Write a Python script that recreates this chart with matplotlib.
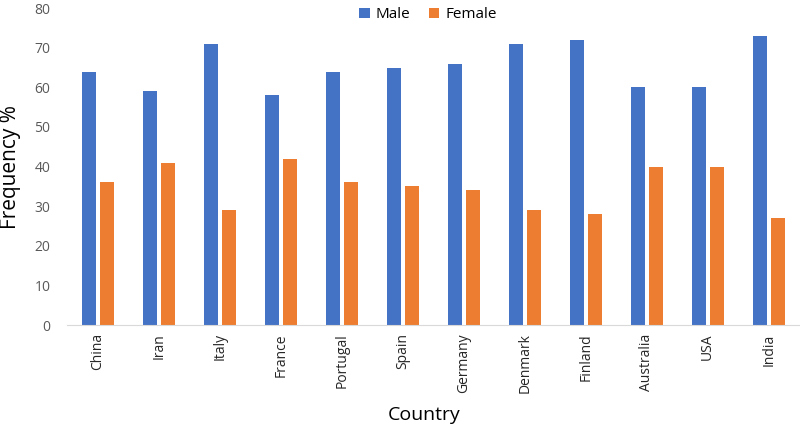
import matplotlib

matplotlib.use("Agg")
import matplotlib.pyplot as plt
import numpy as np

plt.rcParams["font.family"] = ["Open Sans", "DejaVu Sans"]

# Data
countries = ["China", "Iran", "Italy", "France", "Portugal", "Spain",
             "Germany", "Denmark", "Finland", "Australia", "USA", "India"]
male = [64, 59, 71, 58, 64, 65, 66, 71, 72, 60, 60, 73]
female = [36, 41, 29, 42, 36, 35, 34, 29, 28, 40, 40, 27]

BLUE = "#4472C4"
ORANGE = "#ED7D31"
GREY = "#595959"

fig = plt.figure(figsize=(8, 4.29), dpi=100)
ax = fig.add_axes([0.084, 0.2424, 0.915, 0.7386])

x = np.arange(len(countries))
w = 0.23
ax.bar(x - w / 2 - 0.03, male, w, color=BLUE, label="Male")
ax.bar(x + w / 2 + 0.03, female, w, color=ORANGE, label="Female")

ax.set_xlim(-0.5, len(countries) - 0.5)
ax.set_ylim(0, 80)
ax.set_yticks(range(0, 81, 10))
ax.set_xticks(x)
ax.set_xticklabels(countries, rotation=90, fontsize=10, color="#262626")
ax.tick_params(axis="y", labelsize=10, labelcolor=GREY, length=0, pad=12)
ax.tick_params(axis="x", length=0, pad=6)

for side in ("top", "right", "left"):
    ax.spines[side].set_visible(False)
ax.spines["bottom"].set_color("#D9D9D9")

ax.set_ylabel("Frequency %", fontsize=15, labelpad=10)
fig.text(0.53, 0.012, "Country", ha="center", va="bottom", fontsize=14)

fig.legend(loc="upper center", bbox_to_anchor=(0.535, 1.015), ncol=2,
           frameon=False, fontsize=11, handlelength=0.7, handleheight=0.7,
           columnspacing=1.2, handletextpad=0.4)

fig.savefig("out.png", dpi=100)
